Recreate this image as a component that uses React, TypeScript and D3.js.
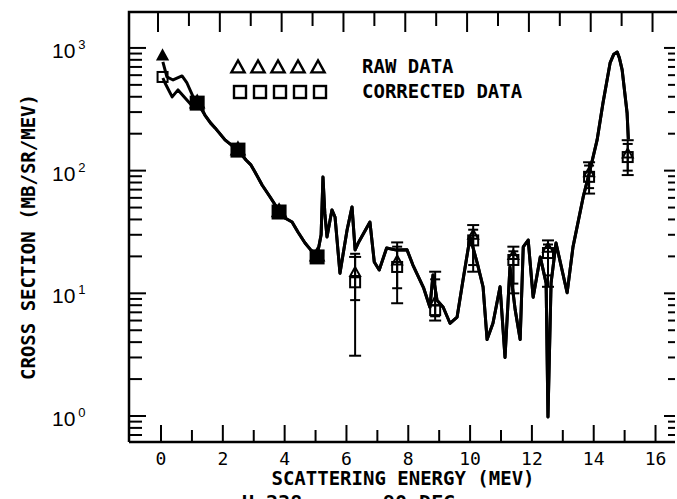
import React from 'react';
import * as d3 from 'd3';

// raw-data curve, low-energy part (MeV, mb/sr/MeV)
const rawLeadE = [0.06, 0.19, 0.39, 0.68, 0.84, 1.04, 1.26];
const rawLeadY = [769, 580, 548, 591, 518, 399, 343];
// corrected curve, low-energy part
const corrLeadE = [0.06, 0.13, 0.36, 0.55, 0.78, 1.04, 1.26];
const corrLeadY = [569, 518, 399, 455, 391, 330, 330];
// both curves coincide above ~1.4 MeV
const sharedE = [
  1.42, 1.6, 1.75, 2.07, 2.3, 2.49, 2.75, 2.9, 3.04, 3.27, 3.53, 3.82, 4.01,
  4.24, 4.43, 4.66, 4.85, 5.05, 5.18, 5.24, 5.3, 5.37, 5.53, 5.63, 5.79,
  6.02, 6.18, 6.28, 6.38, 6.76, 6.9, 7.06, 7.3, 7.62, 7.96,
  8.15, 8.5, 8.7, 8.8, 8.93, 9.13, 9.35, 9.58, 9.77, 10.0, 10.23,
  10.42, 10.55, 10.74, 10.97, 11.13, 11.29, 11.46, 11.62, 11.72, 11.88, 12.04,
  12.27, 12.46, 12.52, 12.62, 12.78, 13.14, 13.33, 13.66, 13.88, 14.11,
  14.3, 14.53, 14.65, 14.76, 14.83, 14.92, 15.08, 15.12,
];
const sharedY = [
  284, 245, 223, 178, 160, 147, 122, 112, 97.5, 76.4, 61, 46.9, 41.1,
  38.1, 31.6, 25.7, 22.5, 20.2, 30, 88.8, 45, 28.8, 47.8, 41.9, 14.6,
  32.8, 50.6, 22.6, 25.7, 38.1, 18, 15.5, 23.4, 22.5, 22.6,
  17, 11, 7.7, 14.1, 8.8, 7.7, 5.7, 6.4, 12.8, 28.8, 17.7,
  11.3, 4.2, 5.7, 11.3, 3.0, 16.4, 7.3, 4.2, 23.9, 27.2, 9.3,
  19.8, 12.1, 0.98, 12.1, 25.7, 10.1, 23.9, 61, 101, 178,
  356, 755, 890, 927, 830, 662, 295, 180,
];

// binned points
const pointE = [0.05, 1.17, 2.49, 3.82, 5.05, 6.28, 7.64, 8.87, 10.1, 11.4, 12.52, 13.85, 15.1];
const rawPointY = [870, 362, 150, 47, 20.5, 14.9, 18.5, 8.6, 30, 20.5, 23.5, 97, 138];
const rawLo = [null, null, null, null, null, 8.8, 11, 6.5, 17, 12, 14, 72, 100];
const rawHi = [null, null, null, null, null, 21, 24, 13, 33, 22, 25, 110, 165];
const corrPointY = [580, 355, 147, 46, 19.8, 12.3, 16.4, 7.3, 27, 18.7, 21.3, 89, 129];
const corrLo = [null, null, null, null, null, 3.1, 8.3, 6.0, 15, 10, 11.3, 65, 92];
const corrHi = [null, null, null, null, null, 19.8, 26, 15, 36, 24, 27, 117, 177];

const xTicks = d3.range(0, 17);
const xLabels = ['0', '2', '4', '6', '8', '10', '12', '14', '16'];
const yLabels = [1, 10, 100, 1000];

const W = 677;
const H = 499;
const left = 129, right = 675, top = 12, bottom = 442;
const mono = '"DejaVu Sans Mono", monospace';

const x = d3.scaleLinear().domain([-1.036, 16.63]).range([left, right]);
const y = d3.scaleLog().domain([0.614, 1963]).range([bottom, top]);

const line = d3.line<[number, number]>().x(d => x(d[0])).y(d => y(d[1]));

const rawCurve: [number, number][] = [...rawLeadE, ...sharedE].map((e, i) => [e, [...rawLeadY, ...sharedY][i]]);
const corrCurve: [number, number][] = [...corrLeadE, ...sharedE].map((e, i) => [e, [...corrLeadY, ...sharedY][i]]);

const tri = (cx: number, cy: number, s: number) =>
  `M${cx},${cy - s * 0.55}L${cx + s * 0.55},${cy + s * 0.45}L${cx - s * 0.55},${cy + s * 0.45}Z`;

function ErrBar({ e, lo, hi, w }: { e: number; lo: number | null; hi: number | null; w: number }) {
  if (lo == null || hi == null) return null;
  const cx = x(e);
  return (
    <g stroke="#000" strokeWidth={2}>
      <line x1={cx} x2={cx} y1={y(lo)} y2={y(hi)} />
      <line x1={cx - w} x2={cx + w} y1={y(lo)} y2={y(lo)} />
      <line x1={cx - w} x2={cx + w} y1={y(hi)} y2={y(hi)} />
    </g>
  );
}

export default function App() {
  const yTicks = y.ticks();
  return (
    <svg width={W} height={H} style={{ position: 'absolute', left: 0, top: 0, background: '#fff' }}>
      <rect width={W} height={H} fill="#fff" />

      {/* frame */}
      <path d={`M${left},${bottom}V${top}H${W}`} fill="none" stroke="#000" strokeWidth={2.5} />
      <line x1={left} x2={right} y1={bottom} y2={bottom} stroke="#000" strokeWidth={2.5} />

      {/* x ticks, bottom and top */}
      {xTicks.map(t => {
        const len = t % 2 === 0 ? 17 : 12;
        return (
          <g key={t} stroke="#000" strokeWidth={2}>
            <line x1={x(t)} x2={x(t)} y1={bottom} y2={bottom - len} />
            <line x1={x(t) - 3} x2={x(t) - 3} y1={top} y2={top + (t % 2 === 0 ? 20 : 14)} />
          </g>
        );
      })}
      {xLabels.map(l => (
        <text key={l} x={x(+l)} y={465} textAnchor="middle" fontFamily={mono} fontSize={18}>{l}</text>
      ))}

      {/* y ticks, left and right */}
      {yTicks.map(t => {
        const major = Math.abs(Math.log10(t) - Math.round(Math.log10(t))) < 1e-6;
        const len = major ? 17 : 13;
        return (
          <g key={t} stroke="#000" strokeWidth={2}>
            <line x1={left} x2={left + len} y1={y(t)} y2={y(t)} />
            <line x1={right} x2={right - (major ? 11 : 7)} y1={y(t)} y2={y(t)} />
          </g>
        );
      })}
      {yLabels.map(v => (
        <text key={v} x={52} y={y(v) + 10} fontFamily='"Liberation Sans", sans-serif' fontSize={21}>
          10
          <tspan dx={3} dy={-9} fontSize={13}>{Math.round(Math.log10(v))}</tspan>
        </text>
      ))}

      {/* axis titles */}
      <text x={403} y={485} textAnchor="middle" fontFamily={mono} fontWeight="bold" fontSize={19}>SCATTERING ENERGY (MEV)</text>
      <text transform="translate(35,237) rotate(-90)" textAnchor="middle" fontFamily={mono} fontWeight="bold" fontSize={19}>
        CROSS SECTION (MB/SR/MEV)
      </text>
      <text x={242} y={509} fontFamily={mono} fontWeight="bold" fontSize={20}>U 238</text>
      <text x={383} y={509} fontFamily={mono} fontWeight="bold" fontSize={20}>90 DEG</text>

      {/* curves */}
      <path d={line(corrCurve) || ''} fill="none" stroke="#000" strokeWidth={3} strokeLinejoin="round" />
      <path d={line(rawCurve) || ''} fill="none" stroke="#000" strokeWidth={3} strokeLinejoin="round" />

      {/* error bars */}
      {pointE.map((e, i) => (
        <g key={'eb' + i}>
          <ErrBar e={e} lo={corrLo[i]} hi={corrHi[i]} w={6} />
          <ErrBar e={e} lo={rawLo[i]} hi={rawHi[i]} w={5} />
        </g>
      ))}

      {/* markers */}
      {pointE.map((e, i) => {
        const solid = i >= 1 && i <= 4;
        const s = solid ? 13 : 10;
        return (
          <g key={'m' + i} stroke="#000" strokeWidth={2}>
            <rect x={x(e) - s / 2} y={y(corrPointY[i]) - s / 2} width={s} height={s} fill={solid ? '#000' : 'none'} />
            <path d={tri(x(e), y(rawPointY[i]), solid ? 12 : 9)} fill={solid || i === 0 ? '#000' : 'none'} />
          </g>
        );
      })}

      {/* legend */}
      {d3.range(5).map(k => (
        <g key={'lg' + k} stroke="#000" strokeWidth={2.4} fill="none">
          <path d={tri(238 + k * 20, 67, 12)} />
          <rect x={234 + k * 20} y={86} width={12} height={12} />
        </g>
      ))}
      <text x={362} y={73} fontFamily={mono} fontWeight="bold" fontSize={19}>RAW DATA</text>
      <text x={362} y={98} fontFamily={mono} fontWeight="bold" fontSize={19}>CORRECTED DATA</text>
    </svg>
  );
}
